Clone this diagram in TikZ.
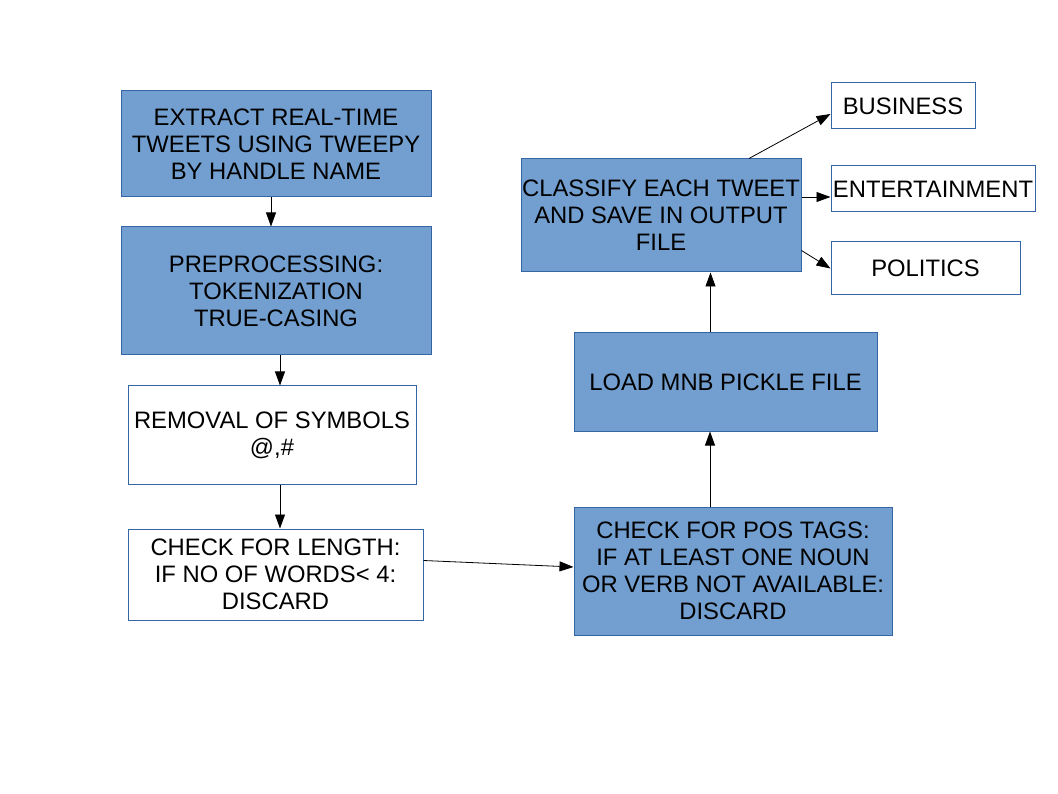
\documentclass[tikz,border=0pt]{standalone}
\usepackage{fontspec}
\setmainfont{Liberation Sans}
\usetikzlibrary{arrows.meta}
\definecolor{boxblue}{HTML}{729FCF}
\definecolor{lineblue}{HTML}{3465A4}

\begin{document}
\begin{tikzpicture}[x=1pt,y=-1pt,
    box/.style={draw=lineblue, line width=1pt, rectangle, inner sep=0pt, align=center, font=\fontsize{23.8}{27}\selectfont},
    bluebox/.style={box, fill=boxblue},
    whitebox/.style={box, fill=white},
    arr/.style={-{Triangle[length=14pt,width=10pt]}, line width=0.8pt}]
                        \useasboundingbox (0,0) rectangle (1058,794);
                        \node [bluebox, minimum width=310, minimum height=106] (extract) at (276,144) {EXTRACT REAL-TIME\\TWEETS USING TWEEPY\\BY HANDLE NAME};
                        \node [bluebox, minimum width=310, minimum height=128] (prep) at (276,291) {PREPROCESSING:\\TOKENIZATION\\TRUE-CASING};
                        \node [whitebox, minimum width=288, minimum height=98] (removal) at (272,435) {REMOVAL OF SYMBOLS\\@,\#};
                        \node [whitebox, minimum width=295, minimum height=91] (length) at (275.5,574.5) {CHECK FOR LENGTH:\\IF NO OF WORDS< 4:\\DISCARD};
                        \node [bluebox, minimum width=318, minimum height=128] (pos) at (733,571) {CHECK FOR POS TAGS:\\IF AT LEAST ONE NOUN\\OR VERB NOT AVAILABLE:\\DISCARD};
                        \node [bluebox, minimum width=303, minimum height=98] (mnb) at (725.5,382) {LOAD MNB PICKLE FILE};
                        \node [bluebox, minimum width=280, minimum height=113] (classify) at (661,215.5) {CLASSIFY EACH TWEET\\AND SAVE IN OUTPUT\\FILE};
                        \node [whitebox, minimum width=144, minimum height=46] (business) at (903,106) {BUSINESS};
                        \node [whitebox, minimum width=204, minimum height=46] (entertainment) at (933,189) {ENTERTAINMENT};
                        \node [whitebox, minimum width=189, minimum height=53] (politics) at (925.5,268.5) {POLITICS};
                        % left column
                        \draw [arr] ([xshift=-5pt]extract.south) -- ([xshift=-5pt]extract.south |- prep.north);
                        \draw [arr] ([xshift=4pt]prep.south) -- ([xshift=4pt]prep.south |- removal.north);
                        \draw [arr] ([xshift=8pt]removal.south) -- ([xshift=8pt]removal.south |- length.north);
                        \draw [arr] ([yshift=14pt]length.east) -- ([yshift=4pt]pos.west);
                        % right column
                        \draw [arr] ([xshift=-23pt]pos.north) -- ([xshift=-23pt]pos.north |- mnb.south);
                        \draw [arr] ([xshift=-15pt]mnb.north) -- ([xshift=-15pt]mnb.north |- classify.south);
                        \draw [arr] ([xshift=88pt]classify.north) -- ([yshift=-8pt]business.west);
                        \draw [arr] ([yshift=-8pt]entertainment.west -| classify.east) -- ([yshift=-8pt]entertainment.west);
                        \draw [arr] ([yshift=-35pt]classify.east) -- (politics.west);
\end{tikzpicture}
\end{document}
